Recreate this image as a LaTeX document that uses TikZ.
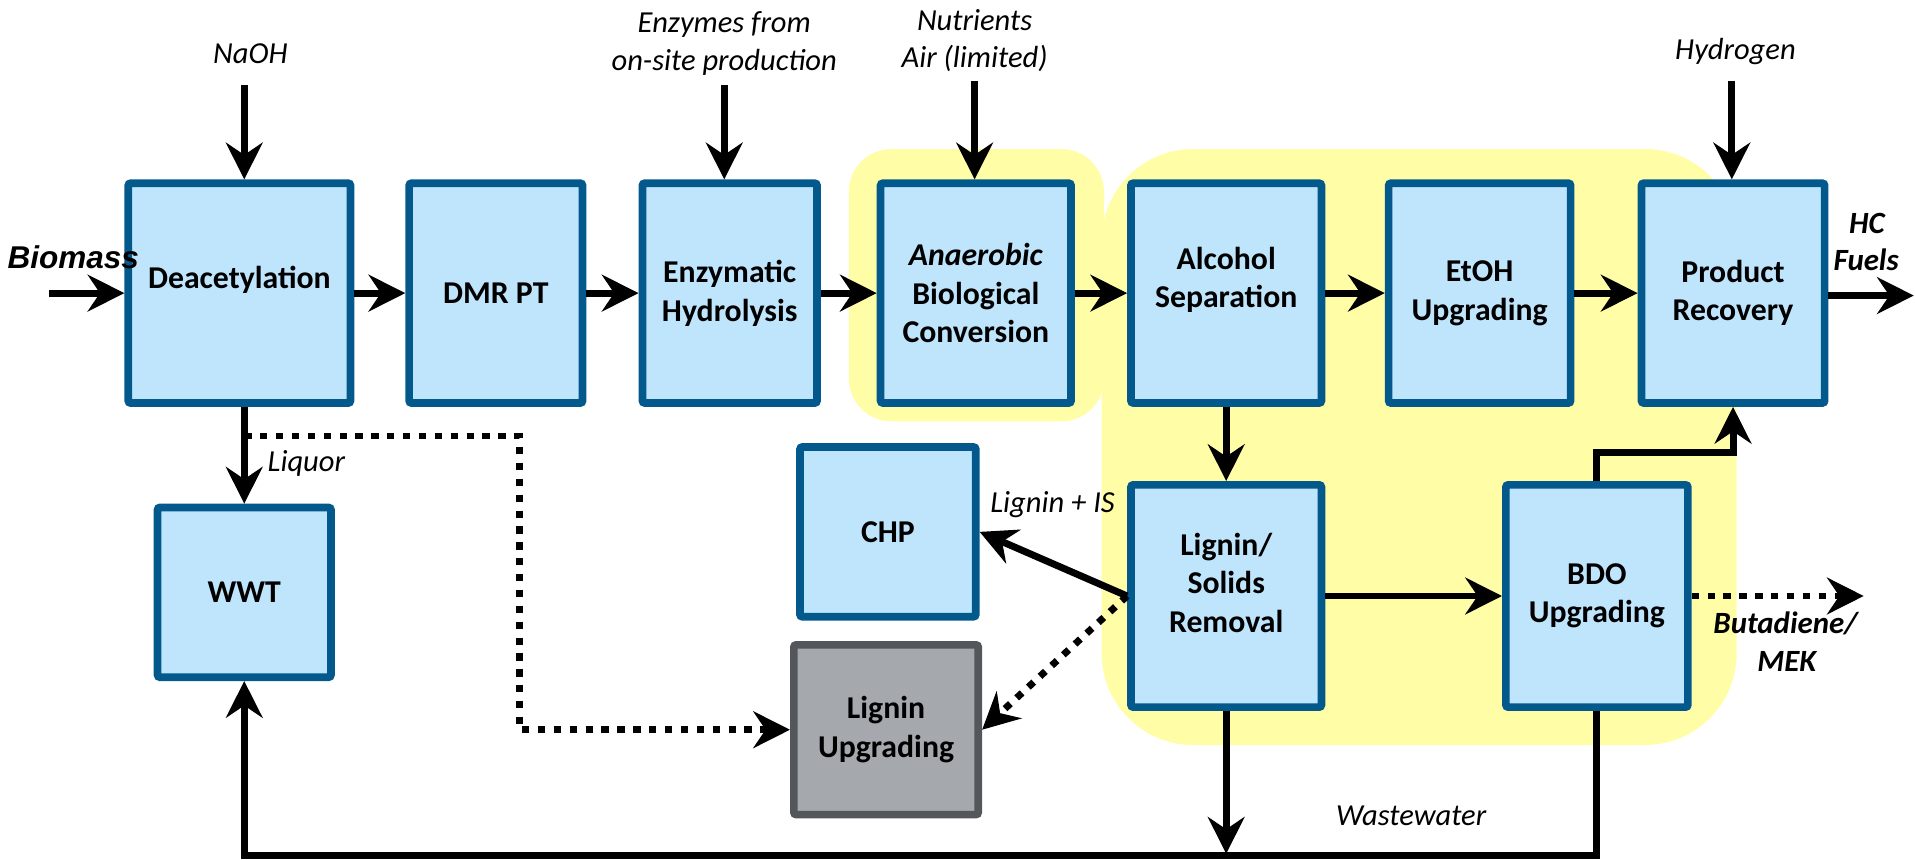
\documentclass[tikz,border=0pt]{standalone}
\usepackage{fontspec}
\setmainfont{Carlito}
\newfontfamily\arialfont{Liberation Sans}
\usetikzlibrary{arrows.meta,calc}
\definecolor{boxfill}{HTML}{BFE5FD}
\definecolor{boxdraw}{HTML}{03598C}
\definecolor{grayfill}{HTML}{A5A9AE}
\definecolor{graydraw}{HTML}{53565B}
\definecolor{hl}{HTML}{FFFDA6}
\newcommand{\boxfont}{\fontsize{26}{31.5}\selectfont\bfseries}
\newcommand{\labfont}{\fontsize{25}{31}\selectfont\itshape}
\newcommand{\blabfont}{\fontsize{25.3}{31}\selectfont\bfseries\itshape}
\begin{document}
\begin{tikzpicture}[x=1pt,y=-1pt,
  box/.style={draw=boxdraw, fill=boxfill, line width=6.3pt, rounded corners=2pt, inner sep=0pt, align=center, font=\boxfont},
  graybox/.style={box, draw=graydraw, fill=grayfill},
  boxlab/.style={font=\boxfont, align=center, inner sep=0pt},
  lab/.style={font=\labfont, inner sep=0pt, anchor=base},
  blab/.style={font=\blabfont, inner sep=0pt, anchor=base},
  flow/.style={line width=5.7pt, -{Stealth[length=30pt,width=30pt,inset=10pt]}},
  dotflow/.style={flow, dash pattern=on 6pt off 7pt}]
\path[use as bounding box] (0,0) rectangle (1568,704);

% highlight regions
\fill[hl, rounded corners=35pt] (695,122) rectangle (904,345);
\fill[hl, rounded corners=75pt] (902,122) rectangle (1422,610);

% process boxes
\node[box, minimum width=182pt, minimum height=180pt,
      label={[boxlab, yshift=11pt]center:Deacetylation}] (deac) at (196,240) {};
\node[box, minimum width=142pt, minimum height=180pt] (dmr) at (406,240) {DMR PT};
\node[box, minimum width=143pt, minimum height=180pt] (enz) at (597.5,240) {Enzymatic\\Hydrolysis};
\node[box, minimum width=156pt, minimum height=180pt] (anae) at (799,240) {\itshape Anaerobic\\Biological\\Conversion};
\node[box, minimum width=156pt, minimum height=180pt,
      label={[boxlab, yshift=11pt]center:Alcohol\\Separation}] (alc) at (1004,240) {};
\node[box, minimum width=149pt, minimum height=180pt] (etoh) at (1211.5,240) {EtOH\\Upgrading};
\node[box, minimum width=150pt, minimum height=180pt] (prod) at (1419,240) {Product\\Recovery};
\node[box, minimum width=142pt, minimum height=139pt] (wwt) at (200,485) {WWT};
\node[box, minimum width=144pt, minimum height=139pt] (chp) at (727,435.5) {CHP};
\node[graybox, minimum width=151pt, minimum height=139pt] (lupg) at (725.5,597.5) {Lignin\\Upgrading};
\node[box, minimum width=156pt, minimum height=182pt,
      label={[boxlab, yshift=11pt]center:Lignin/\\Solids\\Removal}] (lsr) at (1004,488) {};
\node[box, minimum width=149pt, minimum height=182pt] (bdo) at (1307.5,488) {BDO\\Upgrading};

% free ends
\coordinate (bioS) at (40,240);
\coordinate (naohS) at (200,70);
\coordinate (enzS) at (593,70);
\coordinate (nutS) at (798,66);
\coordinate (h2S) at (1418,66);
\coordinate (hcE) at (1567,242);
\coordinate (butE) at (1526,488);
\coordinate (liqJ) at (200,357);
\coordinate (dotC) at (425,357);
\coordinate (wwJ) at (1004,699);
\coordinate (botR) at (1307.5,700.5);
\coordinate (botL) at (200,700.5);

% labels
\node[font=\arialfont\fontsize{25.8}{31}\selectfont\bfseries\itshape, inner sep=0pt, anchor=base] (bioL) at (60,219.6) {Biomass};
\node[lab] (naohL) at (205,52) {NaOH};
\node[lab] (enzL1) at (593,27) {Enzymes from};
\node[lab] (enzL2) at (593,58) {on-site production};
\node[lab] (nutL1) at (798,25) {Nutrients};
\node[lab] (nutL2) at (798,55) {Air (limited)};
\node[lab] (h2L) at (1421,49) {Hydrogen};
\node[blab] (hcL1) at (1528.6,191) {HC};
\node[blab] (hcL2) at (1528,221.6) {Fuels};
\node[lab, anchor=base west] (liqL) at (219,386) {Liquor};
\node[lab, anchor=base east] (ligL) at (913,420) {Lignin + IS};
\node[lab] (wwL) at (1155.5,675.6) {Wastewater};
\node[blab] (butL1) at (1462,519) {Butadiene/};
\node[blab] (butL2) at (1463,550) {MEK};

% main line
\draw[flow] (bioS) -- (deac.west);
\draw[flow] (deac.east) -- (dmr.west);
\draw[flow] (dmr.east) -- (enz.west);
\draw[flow] (enz.east) -- (anae.west);
\draw[flow] (anae.east) -- (alc.west);
\draw[flow] (alc.east) -- (etoh.west);
\draw[flow] (etoh.east) -- (prod.west);
\draw[flow] (prod.east |- hcE) -- (hcE);

% inputs
\draw[flow] (naohS) -- (naohS |- deac.north);
\draw[flow] (enzS) -- (enzS |- enz.north);
\draw[flow] (nutS) -- (nutS |- anae.north);
\draw[flow] (h2S) -- (h2S |- prod.north);

% lower connections
\draw[flow] (wwt.north |- deac.south) -- (wwt.north);
\draw[dotflow] (liqJ) -- (dotC) |- (lupg.west);
\draw[flow] (alc.south) -- (lsr.north);
\draw[flow] (lsr.west) -- (chp.east);
\draw[dotflow] (lsr.west) -- (lupg.east);
\draw[flow] (lsr.east) -- (bdo.west);
\draw[flow] (bdo.north) -- ($(bdo.north)+(0,-23)$) -| (prod.south);
\draw[dotflow] (bdo.east) -- (butE);
\draw[flow] (lsr.south) -- (wwJ);
\draw[flow] (bdo.south) -- (botR) -- (botL) -- (wwt.south);
\end{tikzpicture}
\end{document}
